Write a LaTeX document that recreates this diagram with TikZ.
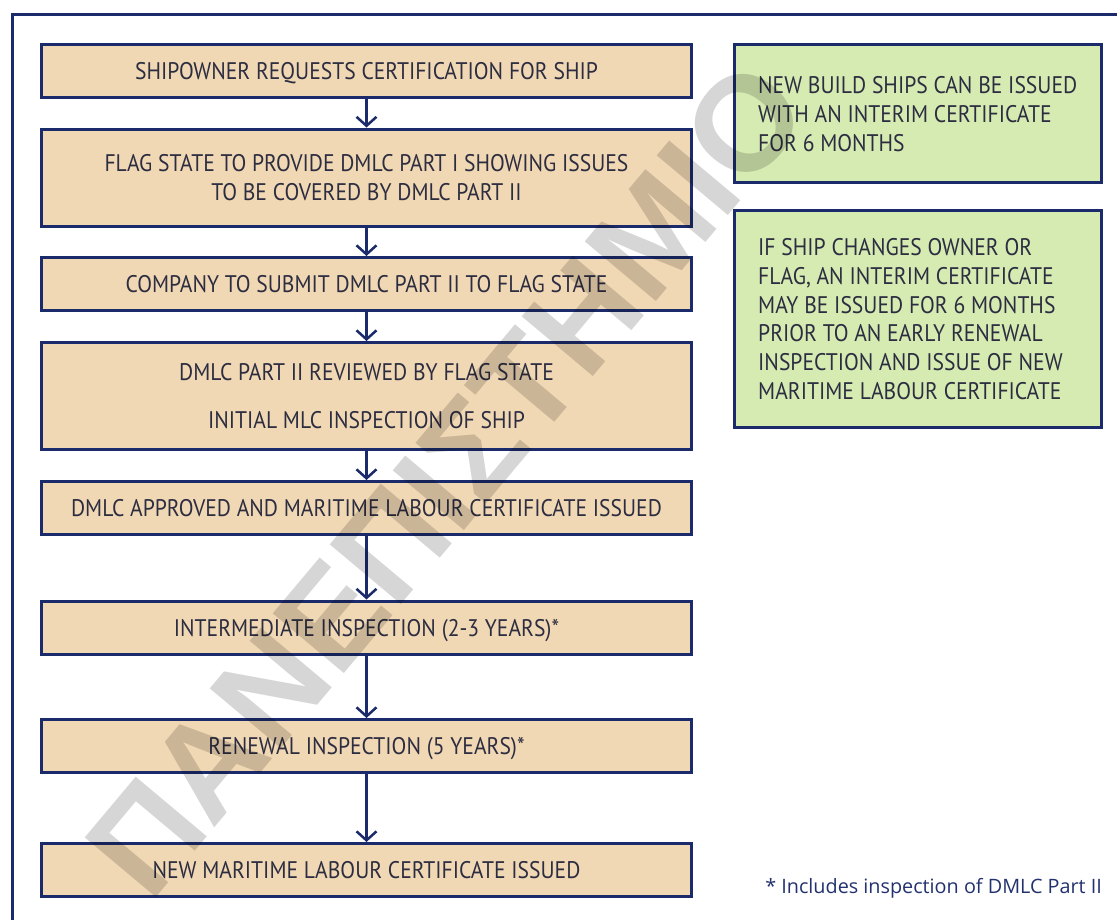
\documentclass[tikz,border=0pt]{standalone}
\usepackage{fontspec}
\setmainfont{PT Sans}
\newfontfamily\boxfont[FakeStretch=0.9]{PT Sans}
\newfontfamily\notefont{Open Sans}
\newfontfamily\wmfont{Liberation Sans}
\usetikzlibrary{arrows.meta}
\definecolor{framenavy}{RGB}{27,42,107}
\definecolor{boxtan}{RGB}{241,216,180}
\definecolor{boxgreen}{RGB}{214,235,178}
\definecolor{boxtext}{RGB}{45,45,65}
\definecolor{notenavy}{RGB}{35,50,110}
\begin{document}
\begin{tikzpicture}[x=1pt,y=-1pt,
  flowbox/.style={draw=framenavy, line width=3pt, fill=boxtan, minimum width=650pt,
    inner sep=0pt, align=center, text=boxtext, font=\boxfont\fontsize{24}{28.8}\selectfont},
  oneline/.style={text height=17pt, text depth=0pt},
  notebox/.style={draw=framenavy, line width=3pt, fill=boxgreen, minimum width=367pt, inner sep=0pt},
  notetext/.style={inner sep=0pt, align=left, text=boxtext, font=\boxfont\fontsize{24}{28.7}\selectfont},
  flow/.style={draw=framenavy, line width=2.5pt, -{Straight Barb[length=9pt,width=20pt]}},
  wm/.style={inner sep=0pt, text=black, text opacity=0.16, font=\wmfont\bfseries\fontsize{135}{135}\selectfont}]
\useasboundingbox (0,0) rectangle (1117,919);
\clip (0,0) rectangle (1117,919);
\fill[white] (0,0) rectangle (1117,919);
\draw[framenavy, line width=3pt] (12,960) -- (12,14) -- (1160,14);

\node[flowbox, oneline, minimum height=53pt] (b1) at (366.5,71) {SHIPOWNER REQUESTS CERTIFICATION FOR SHIP};
\node[flowbox, minimum height=97pt] (b2) at (366.5,177.5) {FLAG STATE TO PROVIDE DMLC PART I SHOWING ISSUES\\TO BE COVERED BY DMLC PART II};
\node[flowbox, oneline, minimum height=53pt] (b3) at (366.5,284) {COMPANY TO SUBMIT DMLC PART II TO FLAG STATE};
\node[flowbox, minimum height=107pt] (b4) at (366.5,396) {DMLC PART II REVIEWED BY FLAG STATE\\[19pt]INITIAL MLC INSPECTION OF SHIP};
\node[flowbox, oneline, minimum height=53pt] (b5) at (366.5,508) {DMLC APPROVED AND MARITIME LABOUR CERTIFICATE ISSUED};
\node[flowbox, oneline, minimum height=53pt] (b6) at (366.5,627.5) {INTERMEDIATE INSPECTION (2-3 YEARS)*};
\node[flowbox, oneline, minimum height=53pt] (b7) at (366.5,746) {RENEWAL INSPECTION (5 YEARS)*};
\node[flowbox, oneline, minimum height=53pt] (b8) at (366.5,870) {NEW MARITIME LABOUR CERTIFICATE ISSUED};

\draw[flow] (b1) -- (b2);
\draw[flow] (b2) -- (b3);
\draw[flow] (b3) -- (b4);
\draw[flow] (b4) -- (b5);
\draw[flow] (b5) -- (b6);
\draw[flow] (b6) -- (b7);
\draw[flow] (b7) -- (b8);

\node[notebox, minimum height=138pt] (n1) at (918,113.5) {};
\node[notetext, anchor=north west] (n1t) at (758,76.5) {NEW BUILD SHIPS CAN BE ISSUED\\WITH AN INTERIM CERTIFICATE\\FOR 6 MONTHS};
\node[notebox, minimum height=217pt] (n2) at (918,319) {};
\node[notetext, anchor=north west] (n2t) at (758,238.5) {IF SHIP CHANGES OWNER OR\\FLAG, AN INTERIM CERTIFICATE\\MAY BE ISSUED FOR 6 MONTHS\\PRIOR TO AN EARLY RENEWAL\\INSPECTION AND ISSUE OF NEW\\MARITIME LABOUR CERTIFICATE};

\node[anchor=base east, inner sep=0pt, text=notenavy, font=\notefont\fontsize{19.8}{24}\selectfont] (fn) at (1102,893.5) {* Includes inspection of DMLC Part II};

\node[wm, rotate=50, anchor=base west] (wm) at (150,905) {ΠΑΝΕΠΙΣΤΗΜΙΟ};
\end{tikzpicture}
\end{document}
